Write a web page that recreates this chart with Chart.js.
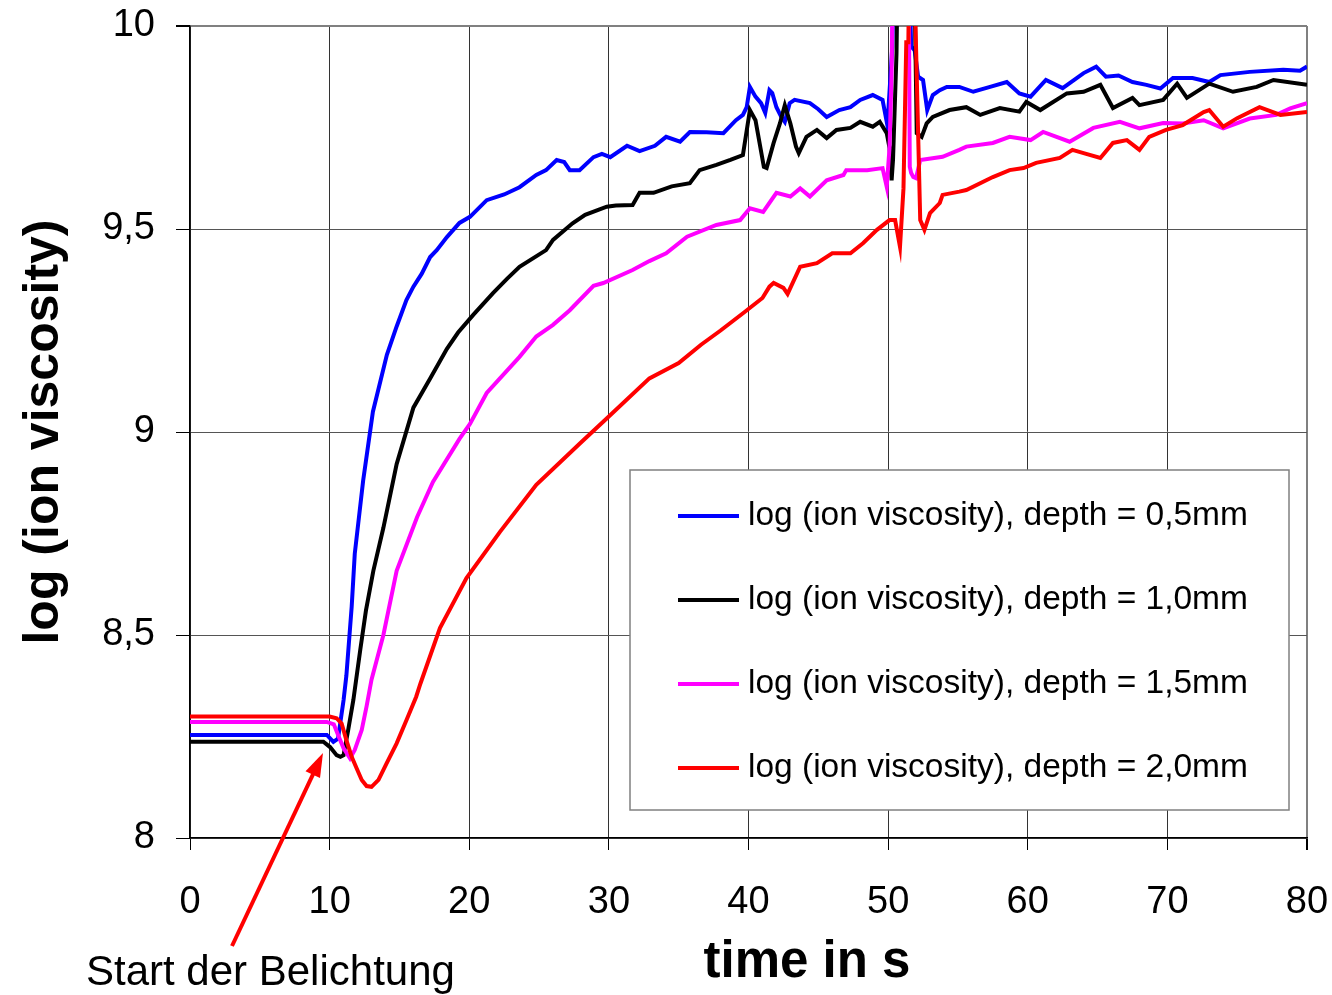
<!DOCTYPE html>
<html>
<head>
<meta charset="utf-8">
<title>log (ion viscosity) over time</title>
<script src="https://cdn.jsdelivr.net/npm/chart.js@4/dist/chart.umd.min.js"></script>
<style>
    body { margin: 0; background: #fff; }
    #chart { display: block; }
</style>
</head>
<body>
<canvas id="chart" width="1332" height="995"></canvas>
<script>
const X_TICKS = [0, 10, 20, 30, 40, 50, 60, 70, 80];
const Y_TICKS = [8, 8.5, 9, 9.5, 10];

const LABELS = [
    "log (ion viscosity), depth = 0,5mm",
    "log (ion viscosity), depth = 1,0mm",
    "log (ion viscosity), depth = 1,5mm",
    "log (ion viscosity), depth = 2,0mm"
];
const COLORS = ["#0000ff", "#000000", "#ff00ff", "#ff0000"];

// depth 0,5mm
const blueTime = [0, 9.8, 10.27, 10.6, 10.75, 11.0, 11.2, 11.58, 11.8, 12.4, 13.1, 14.1, 14.8, 15.5, 16.0, 16.6, 17.2, 17.67, 18.4, 19.3, 20.05, 21.25, 22.5, 23.6, 24.8, 25.5, 26.26, 26.8, 27.2, 27.9, 28.9, 29.5, 30.1, 31.3, 32.2, 33.3, 34.1, 35.1, 35.8, 37.0, 38.2, 39.1, 39.6, 39.87, 40.1, 40.5, 40.9, 41.2, 41.5, 41.7, 42.0, 42.35, 42.6, 42.95, 43.3, 44.4, 45.0, 45.6, 46.5, 47.3, 48.0, 48.9, 49.6, 49.95, 50.3, 50.5, 51.4, 51.65, 51.9, 52.15, 52.5, 52.8, 53.2, 53.7, 54.2, 55.1, 56.1, 57.3, 58.5, 59.4, 60.2, 61.3, 62.5, 64.0, 64.9, 65.6, 66.5, 67.5, 68.5, 69.5, 70.4, 71.8, 73.0, 73.8, 75.9, 78.3, 79.5, 80];
const blueLog = [8.254, 8.254, 8.237, 8.245, 8.28, 8.34, 8.40, 8.57, 8.70, 8.88, 9.05, 9.19, 9.26, 9.325, 9.358, 9.39, 9.431, 9.448, 9.48, 9.515, 9.53, 9.571, 9.585, 9.603, 9.633, 9.645, 9.67, 9.665, 9.645, 9.645, 9.677, 9.685, 9.677, 9.705, 9.692, 9.705, 9.727, 9.715, 9.739, 9.738, 9.736, 9.768, 9.781, 9.80, 9.85, 9.826, 9.81, 9.786, 9.842, 9.835, 9.80, 9.776, 9.764, 9.81, 9.818, 9.81, 9.795, 9.776, 9.793, 9.80, 9.818, 9.83, 9.818, 9.755, 9.95, 10.3, 10.3, 9.95, 9.94, 9.875, 9.867, 9.793, 9.83, 9.842, 9.85, 9.85, 9.838, 9.85, 9.862, 9.834, 9.826, 9.867, 9.847, 9.884, 9.90, 9.875, 9.878, 9.862, 9.855, 9.846, 9.872, 9.872, 9.862, 9.879, 9.887, 9.892, 9.89, 9.9];

// depth 1,0mm
const blackTime = [0, 9.55, 10.03, 10.5, 10.77, 11.0, 11.35, 11.7, 12.2, 12.6, 13.13, 13.85, 14.8, 16.0, 17.2, 18.4, 19.2, 20.3, 21.7, 22.7, 23.6, 25.5, 26.0, 27.4, 28.3, 29.85, 30.5, 31.7, 32.2, 33.2, 34.5, 35.8, 36.5, 37.7, 38.7, 39.6, 40.1, 40.5, 41.1, 41.3, 41.8, 42.25, 42.6, 43.0, 43.4, 43.6, 44.15, 44.9, 45.6, 46.3, 47.3, 48.0, 48.9, 49.4, 49.9, 50.1, 50.25, 50.35, 50.6, 50.75, 51.8, 52.05, 52.4, 52.76, 53.2, 54.4, 55.6, 56.6, 58.0, 59.4, 59.9, 60.9, 62.8, 64.0, 65.2, 66.1, 67.5, 68.0, 69.7, 70.7, 71.4, 73.0, 74.7, 76.4, 77.6, 80];
const blackLog = [8.237, 8.237, 8.224, 8.204, 8.2, 8.204, 8.27, 8.34, 8.465, 8.56, 8.658, 8.764, 8.921, 9.06, 9.132, 9.205, 9.245, 9.289, 9.342, 9.377, 9.407, 9.448, 9.473, 9.514, 9.535, 9.555, 9.558, 9.559, 9.589, 9.589, 9.605, 9.613, 9.645, 9.658, 9.67, 9.682, 9.793, 9.768, 9.653, 9.65, 9.712, 9.76, 9.805, 9.76, 9.703, 9.687, 9.727, 9.744, 9.724, 9.744, 9.749, 9.764, 9.752, 9.764, 9.736, 9.70, 9.62, 9.67, 9.933, 10.3, 10.3, 9.736, 9.727, 9.76, 9.776, 9.793, 9.80, 9.781, 9.798, 9.789, 9.813, 9.793, 9.834, 9.838, 9.855, 9.798, 9.823, 9.805, 9.818, 9.858, 9.823, 9.858, 9.838, 9.85, 9.867, 9.855];

// depth 1,5mm
const magentaTime = [0, 9.8, 10.3, 10.65, 11.0, 11.46, 11.8, 12.3, 12.65, 13.0, 13.85, 14.8, 16.26, 17.4, 19.3, 20.05, 21.25, 23.6, 24.8, 26.0, 27.2, 28.9, 29.6, 31.7, 32.9, 34.1, 35.6, 37.7, 39.4, 40.1, 41.05, 42.0, 43.0, 43.7, 44.4, 45.6, 46.8, 47.0, 48.5, 49.6, 49.9, 50.1, 50.25, 50.4, 51.45, 51.55, 51.65, 51.8, 52.0, 52.3, 53.9, 55.1, 55.6, 57.5, 58.7, 60.2, 61.1, 63.0, 64.7, 66.6, 68.0, 69.7, 71.1, 72.6, 74.0, 75.9, 77.8, 78.8, 80];
const magentaLog = [8.286, 8.286, 8.28, 8.25, 8.221, 8.196, 8.217, 8.266, 8.325, 8.39, 8.5, 8.658, 8.79, 8.877, 8.983, 9.02, 9.096, 9.185, 9.235, 9.264, 9.3, 9.36, 9.367, 9.399, 9.421, 9.44, 9.481, 9.51, 9.522, 9.551, 9.542, 9.589, 9.58, 9.60, 9.58, 9.62, 9.633, 9.645, 9.645, 9.65, 9.604, 9.70, 9.89, 10.3, 10.3, 9.653, 9.638, 9.628, 9.625, 9.67, 9.678, 9.695, 9.703, 9.712, 9.727, 9.719, 9.739, 9.715, 9.749, 9.764, 9.748, 9.761, 9.76, 9.768, 9.748, 9.772, 9.781, 9.797, 9.81];

// depth 2,0mm
const redTime = [0, 10.0, 10.5, 10.86, 11.2, 11.58, 11.94, 12.3, 12.65, 13.0, 13.5, 14.08, 14.8, 15.5, 16.2, 16.5, 17.9, 19.8, 22.2, 24.8, 27.96, 29.9, 32.9, 35.0, 36.6, 38.0, 39.7, 41.0, 41.5, 41.8, 42.5, 42.8, 43.7, 44.9, 46.0, 47.3, 48.2, 49.2, 50.1, 50.5, 50.85, 51.1, 51.3, 51.45, 51.55, 51.75, 52.3, 52.6, 53.0, 53.7, 53.9, 55.1, 55.6, 57.5, 58.7, 59.7, 60.6, 62.3, 63.2, 64.0, 65.2, 66.1, 67.1, 68.0, 68.7, 69.9, 71.1, 72.6, 73.0, 74.0, 75.0, 76.6, 78.1, 80];
const redLog = [8.299, 8.299, 8.295, 8.282, 8.241, 8.2, 8.171, 8.143, 8.128, 8.126, 8.143, 8.184, 8.233, 8.29, 8.348, 8.38, 8.517, 8.64, 8.754, 8.87, 8.973, 9.035, 9.132, 9.17, 9.215, 9.25, 9.295, 9.33, 9.358, 9.367, 9.355, 9.34, 9.407, 9.416, 9.44, 9.44, 9.465, 9.498, 9.522, 9.522, 9.456, 9.6, 9.96, 9.96, 10.3, 10.3, 9.522, 9.498, 9.539, 9.564, 9.584, 9.592, 9.596, 9.628, 9.645, 9.65, 9.663, 9.675, 9.695, 9.687, 9.675, 9.712, 9.719, 9.695, 9.727, 9.744, 9.756, 9.788, 9.793, 9.752, 9.773, 9.80, 9.781, 9.788];

const FONT = "'Liberation Sans', Arial, sans-serif";

function toPoints(times, values) {
    return times.map((t, i) => ({ x: t, y: values[i] }));
}

const series = [
    toPoints(blueTime, blueLog),
    toPoints(blackTime, blackLog),
    toPoints(magentaTime, magentaLog),
    toPoints(redTime, redLog)
];

// legend box, arrow and captions drawn on the canvas
const extras = {
    id: "extras",
    afterDatasetsDraw(chart) {
        const ctx = chart.ctx;
        ctx.save();

        // legend
        ctx.fillStyle = "#ffffff";
        ctx.fillRect(630, 470, 659, 340);
        ctx.strokeStyle = "#808080";
        ctx.lineWidth = 1.5;
        ctx.strokeRect(630, 470, 659, 340);
        ctx.font = "33.5px " + FONT;
        ctx.textBaseline = "middle";
        ctx.textAlign = "left";
        LABELS.forEach((label, i) => {
            const y = 516 + i * 84;
            ctx.strokeStyle = COLORS[i];
            ctx.lineWidth = 4;
            ctx.beginPath();
            ctx.moveTo(678, y);
            ctx.lineTo(739, y);
            ctx.stroke();
            ctx.fillStyle = "#000";
            ctx.fillText(label, 748, y);
        });

        // arrow to the start of exposure
        const x0 = 232, y0 = 946, x1 = 323, y1 = 753;
        const ang = Math.atan2(y1 - y0, x1 - x0);
        ctx.strokeStyle = "#ff0000";
        ctx.fillStyle = "#ff0000";
        ctx.lineWidth = 4;
        ctx.beginPath();
        ctx.moveTo(x0, y0);
        ctx.lineTo(x1 - 18 * Math.cos(ang), y1 - 18 * Math.sin(ang));
        ctx.stroke();
        ctx.beginPath();
        ctx.moveTo(x1, y1);
        ctx.lineTo(x1 - 24 * Math.cos(ang) + 8 * Math.sin(ang), y1 - 24 * Math.sin(ang) - 8 * Math.cos(ang));
        ctx.lineTo(x1 - 24 * Math.cos(ang) - 8 * Math.sin(ang), y1 - 24 * Math.sin(ang) + 8 * Math.cos(ang));
        ctx.closePath();
        ctx.fill();

        ctx.fillStyle = "#000";
        ctx.textBaseline = "alphabetic";
        ctx.font = "42px " + FONT;
        ctx.fillText("Start der Belichtung", 86, 985);

        ctx.font = "bold 51px " + FONT;
        ctx.textAlign = "center";
        ctx.fillText("time in s", 807, 977);

        ctx.restore();
    }
};

Chart.defaults.font.family = FONT;
Chart.defaults.color = "#000";

new Chart(document.getElementById("chart"), {
    type: "line",
    data: {
        datasets: series.map((pts, i) => ({
            label: LABELS[i],
            data: pts,
            borderColor: COLORS[i],
            backgroundColor: COLORS[i],
            borderWidth: 4,
            pointRadius: 0,
            tension: 0,
            fill: false,
            order: 4 - i
        }))
    },
    options: {
        responsive: false,
        animation: false,
        layout: { padding: { top: 26, right: 25, left: 0, bottom: 0 } },
        plugins: {
            legend: { display: false },
            tooltip: { enabled: false }
        },
        scales: {
            x: {
                type: "linear",
                min: 0,
                max: 80,
                afterBuildTicks: (scale) => { scale.ticks = X_TICKS.map((v) => ({ value: v })); },
                afterFit: (scale) => {
                    scale.height = 157;
                    scale.paddingLeft = 0;
                    scale.paddingRight = 0;
                },
                ticks: {
                    font: { size: 38 },
                    padding: 30,
                    maxRotation: 0
                },
                grid: {
                    color: (c) => (c.tick && c.tick.value === 80 ? "#808080" : "#333"),
                    lineWidth: (c) => (c.tick && c.tick.value === 80 ? 2 : 1),
                    tickColor: "#000",
                    tickLength: 12
                },
                border: { color: "#000", width: 1.5 }
            },
            y: {
                min: 8,
                max: 10,
                afterBuildTicks: (scale) => { scale.ticks = Y_TICKS.map((v) => ({ value: v })); },
                afterFit: (scale) => {
                    scale.width = 190;
                    scale.paddingTop = 0;
                    scale.paddingBottom = 0;
                },
                ticks: {
                    font: { size: 38 },
                    padding: 21,
                    callback: (v) => String(v).replace(".", ",")
                },
                grid: {
                    color: (c) => (c.tick && c.tick.value === 10 ? "#808080" : "#555"),
                    lineWidth: (c) => (c.tick && c.tick.value === 10 ? 2 : 1),
                    tickColor: "#000",
                    tickLength: 14
                },
                border: { color: "#000", width: 1.5 },
                title: {
                    display: true,
                    text: "log (ion viscosity)",
                    font: { size: 50, weight: "bold" },
                    padding: { top: 14, bottom: 0 }
                }
            }
        }
    },
    plugins: [extras]
});
</script>
</body>
</html>
